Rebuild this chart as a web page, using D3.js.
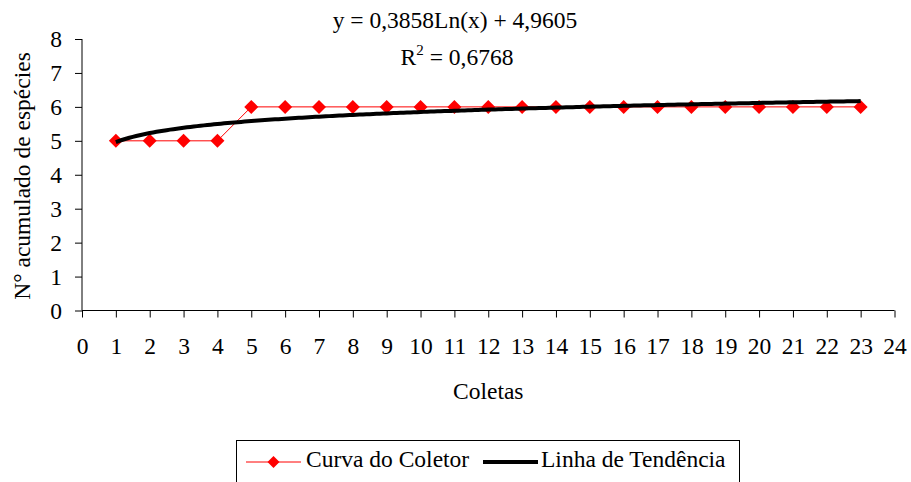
<!DOCTYPE html>
<html>
<head>
<meta charset="utf-8">
<script src="https://cdn.jsdelivr.net/npm/d3@7/dist/d3.min.js"></script>
<style>
  html, body { margin: 0; padding: 0; background: #fff; }
  svg { display: block; }
</style>
</head>
<body>
<svg id="chart" width="911" height="482"></svg>
<script>
// Collector's curve: cumulative number of species per sampling event
const coletas = [1, 2, 3, 4, 5, 6, 7, 8, 9, 10, 11, 12, 13, 14, 15, 16, 17, 18, 19, 20, 21, 22, 23];
const especies = [5, 5, 5, 5, 6, 6, 6, 6, 6, 6, 6, 6, 6, 6, 6, 6, 6, 6, 6, 6, 6, 6, 6];

// Logarithmic trend line y = a·ln(x) + b
const trendCoef = [0.3858, 4.9605];
const trendR2 = [0.6768];

// Axis ticks
const xTicks = d3.range(0, 25);
const yTicks = d3.range(0, 9);

const legendLabels = ["Curva do Coletor", "Linha de Tendência"];

const FONT = "Liberation Serif";
const FS = 23.5;

const svg = d3.select("#chart");

const x = d3.scaleLinear().domain([0, 24]).range([82, 894.5]);
const y = d3.scaleLinear().domain([0, 8]).range([310.5, 39]);

const fmt = v => String(v).replace(".", ",");

// Axes
const xAxis = d3.axisBottom(x).tickValues(xTicks).tickSize(7).tickPadding(20).tickFormat(d => d);
const yAxis = d3.axisLeft(y).tickValues(yTicks).tickSize(7).tickPadding(13).tickFormat(d => d);

const gx = svg.append("g").attr("transform", `translate(0,${y(0)})`).call(xAxis);
const gy = svg.append("g").attr("transform", `translate(${x(0)},0)`).call(yAxis);
[gx, gy].forEach(g => {
  g.attr("font-family", null).attr("font-size", null);
  g.select(".domain").attr("stroke", "#000").attr("stroke-width", 1);
  g.selectAll(".tick line").attr("stroke", "#000").attr("stroke-width", 1);
});
// plain axis lines without outer caps
gx.select(".domain").attr("d", `M${x(0)},0H${x(24)}`);
gy.select(".domain").attr("d", `M0,${y(0)}V${y(8)}`);

// Axis titles
svg.append("text")
  .attr("x", x(12)).attr("y", 399)
  .attr("text-anchor", "middle")
  .text("Coletas");

svg.append("text")
  .attr("transform", `translate(30,176) rotate(-90)`)
  .attr("text-anchor", "middle")
  .text("N° acumulado de espécies");

// Trend equation label
const eq = svg.append("g");
eq.append("text")
  .attr("x", 455).attr("y", 28)
  .attr("text-anchor", "middle")
  .text(`y = ${fmt(trendCoef[0])}Ln(x) + ${fmt(trendCoef[1])}`);
const r2 = eq.append("text")
  .attr("x", 457).attr("y", 65)
  .attr("text-anchor", "middle");
r2.append("tspan").text("R");
r2.append("tspan").attr("dy", -10).attr("class", "sup").text("2");
r2.append("tspan").attr("dy", 10).text(` = ${fmt(trendR2[0])}`);

// Collector's curve
const pts = coletas.map((c, i) => [c, especies[i]]);
const line = d3.line().x(d => x(d[0])).y(d => y(d[1]));
svg.append("path")
  .datum(pts)
  .attr("d", line)
  .attr("fill", "none")
  .attr("stroke", "#ff0000")
  .attr("stroke-width", 1);

const diamond = r => `M0,${-r}L${r},0L0,${r}L${-r},0Z`;
svg.append("g").selectAll("path")
  .data(pts)
  .join("path")
  .attr("transform", d => `translate(${x(d[0])},${y(d[1])})`)
  .attr("d", diamond(7))
  .attr("fill", "#ff0000");

// Trend line drawn over the observed curve
const trendX = d3.range(coletas[0], coletas[coletas.length - 1] + 0.001, 0.1);
const trendPts = trendX.map(v => [v, trendCoef[0] * Math.log(v) + trendCoef[1]]);
svg.append("path")
  .datum(trendPts)
  .attr("d", line)
  .attr("fill", "none")
  .attr("stroke", "#000")
  .attr("stroke-width", 4)
  .attr("stroke-linejoin", "round");

// Legend
const lg = svg.append("g");
lg.append("rect")
  .attr("x", 236.5).attr("y", 440.5)
  .attr("width", 503).attr("height", 60)
  .attr("fill", "#fff").attr("stroke", "#000").attr("stroke-width", 1);
const ly = 462;
lg.append("line").attr("x1", 246).attr("x2", 301).attr("y1", ly).attr("y2", ly)
  .attr("stroke", "#ff0000").attr("stroke-width", 1);
lg.append("path").attr("transform", `translate(273.5,${ly})`).attr("d", diamond(6)).attr("fill", "#ff0000");
lg.append("text").attr("x", 306).attr("y", ly + 5).text(legendLabels[0]);
lg.append("line").attr("x1", 483).attr("x2", 538).attr("y1", ly).attr("y2", ly)
  .attr("stroke", "#000").attr("stroke-width", 4);
lg.append("text").attr("x", 541).attr("y", ly + 5).text(legendLabels[1]);

// Same serif face and size on every label
svg.selectAll("text")
  .attr("font-family", FONT)
  .attr("font-size", FS)
  .attr("fill", "#000");
svg.selectAll("tspan.sup").attr("font-size", 15);
</script>
</body>
</html>
